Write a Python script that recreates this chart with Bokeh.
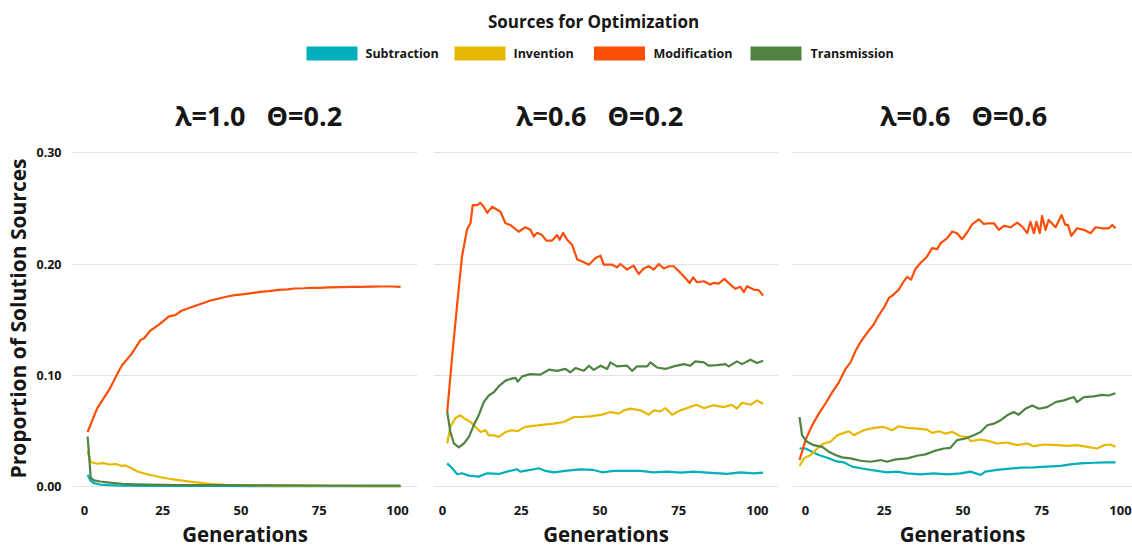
from bokeh.plotting import figure
from bokeh.layouts import column, row
from bokeh.models import Range1d, FixedTicker, NumeralTickFormatter
from bokeh.core.properties import value
from bokeh.embed import file_html
from bokeh.resources import INLINE

FONT = "Open Sans"
INK = "#161616"

LEGEND_TITLE = "Sources for Optimization"
SERIES = ["Subtraction", "Invention", "Modification", "Transmission"]
COLORS = ["#00AFBB", "#E7B800", "#FC4E07", "#4E8342"]
PANEL_TITLES = ["λ=1.0\u00a0\u00a0\u00a0Θ=0.2", "λ=0.6\u00a0\u00a0\u00a0Θ=0.2", "λ=0.6\u00a0\u00a0\u00a0Θ=0.6"]
X_LABEL = "Generations"
Y_LABEL = "Proportion of Solution Sources"
X_TICKS = [0, 25, 50, 75, 100]
Y_TICKS = [0.0, 0.1, 0.2, 0.3]

# ---- panel 1 : lambda=1.0, theta=0.2  (generation, proportion)
P1_SUB = [(1, 0.0105), (2, 0.005), (3, 0.003), (5, 0.0018), (8, 0.0012), (12, 0.0008),
          (20, 0.0006), (40, 0.0005), (60, 0.0004), (80, 0.0004), (101, 0.0004)]
P1_INV = [(1, 0.032), (2, 0.022), (4, 0.0205), (6, 0.021), (8, 0.0198), (10, 0.0202),
          (12, 0.0185), (13, 0.019), (15, 0.0165), (17, 0.0135), (20, 0.011), (24, 0.0086),
          (27, 0.007), (30, 0.0058), (35, 0.004), (40, 0.0025), (45, 0.0016), (50, 0.0012),
          (60, 0.0008), (70, 0.0006), (80, 0.0005), (90, 0.0004), (101, 0.0003)]
P1_MOD = [(1, 0.049), (4, 0.070), (8, 0.0875), (11, 0.104), (12, 0.109), (15, 0.119),
          (18, 0.132), (19, 0.133), (21, 0.140), (24, 0.146), (27, 0.153), (29, 0.154),
          (31, 0.158), (33, 0.160), (35, 0.162), (38, 0.165), (40, 0.167), (43, 0.169),
          (46, 0.171), (48, 0.172), (51, 0.173), (54, 0.174), (56, 0.175), (59, 0.1757),
          (62, 0.1768), (65, 0.1772), (67, 0.178), (70, 0.1782), (72, 0.1785), (75, 0.1785),
          (78, 0.179), (82, 0.1792), (85, 0.1795), (88, 0.1795), (92, 0.1797), (95, 0.1798),
          (98, 0.1798), (101, 0.1795)]
P1_TRA = [(1, 0.045), (2, 0.008), (3, 0.0055), (5, 0.0045), (8, 0.0035), (12, 0.0025),
          (16, 0.002), (20, 0.0017), (30, 0.0013), (40, 0.0012), (60, 0.0010), (80, 0.0009),
          (101, 0.0008)]

# ---- panel 2 : lambda=0.6, theta=0.2
P2_SUB = [(1.5, 0.0208), (3.1, 0.0164), (4.7, 0.011), (6.2, 0.0119), (8.4, 0.0098),
          (11.5, 0.0089), (14.2, 0.0119), (17.9, 0.0113), (20.5, 0.0134), (23.7, 0.0155),
          (24.7, 0.0134), (27.9, 0.0149), (30.6, 0.0164), (32.7, 0.014), (35.3, 0.0128),
          (39.6, 0.0143), (43.8, 0.0155), (48, 0.0149), (50.7, 0.0128), (54.4, 0.014),
          (58.6, 0.014), (62.9, 0.014), (67.1, 0.0128), (71.3, 0.0134), (75.6, 0.0125),
          (79.8, 0.0134), (84, 0.0125), (90.4, 0.0113), (94.6, 0.0128), (98.8, 0.0119),
          (101.8, 0.0125)]
P2_INV = [(1.5, 0.0387), (2.5, 0.0536), (4.1, 0.0616), (5.7, 0.064), (7.3, 0.0604),
          (8.9, 0.058), (10.5, 0.0536), (12.1, 0.049), (13.7, 0.0506), (14.7, 0.046),
          (16.3, 0.046), (17.9, 0.0446), (20, 0.049), (22.1, 0.0506), (23.7, 0.0497),
          (26.3, 0.0536), (29, 0.0545), (32.2, 0.0557), (35.3, 0.0565), (38.5, 0.058),
          (41.7, 0.0625), (43.8, 0.0625), (47, 0.063), (50.7, 0.0646), (53.3, 0.067),
          (56, 0.0655), (57.6, 0.0685), (59.7, 0.07), (62.9, 0.0685), (65.5, 0.0646),
          (67.1, 0.0685), (69.2, 0.0676), (70.8, 0.0705), (72.9, 0.0646), (75.6, 0.0685),
          (77.7, 0.0705), (80.6, 0.0735), (83, 0.0705), (86.1, 0.073), (89.3, 0.0714),
          (91.9, 0.0735), (93.5, 0.07), (95.1, 0.0753), (97.8, 0.0735), (99.9, 0.0774),
          (101.8, 0.0744)]
P2_MOD = [(1.5, 0.067), (3.1, 0.118), (4.7, 0.165), (6.2, 0.207), (7.8, 0.231), (8.9, 0.237),
          (9.6, 0.253), (11, 0.253), (12, 0.255), (13.1, 0.2515), (14.2, 0.246), (15.8, 0.2515),
          (18.4, 0.247), (20, 0.2366), (21.6, 0.235), (24.2, 0.229), (26.3, 0.233),
          (27.9, 0.2307), (29, 0.2247), (30, 0.228), (31.6, 0.226), (33, 0.221), (34.8, 0.221),
          (36.4, 0.226), (37.2, 0.2217), (38.3, 0.228), (39.6, 0.2217), (41.2, 0.217),
          (42.8, 0.204), (44.9, 0.2015), (46.5, 0.1994), (48.6, 0.2054), (50.2, 0.2074),
          (51.2, 0.1994), (53.9, 0.1994), (55.4, 0.197), (56.5, 0.2), (58.6, 0.195),
          (60.7, 0.1985), (62.3, 0.191), (63.9, 0.196), (65.5, 0.198), (67.1, 0.195),
          (68.7, 0.2), (70.3, 0.196), (71.9, 0.198), (73.4, 0.198), (75.6, 0.192),
          (77.1, 0.1875), (78.5, 0.183), (79.6, 0.188), (80.8, 0.1836), (83, 0.1845),
          (85, 0.1815), (86.1, 0.183), (87.7, 0.1824), (89.5, 0.1866), (91.4, 0.1815),
          (93, 0.1777), (94.6, 0.1795), (95.7, 0.1747), (96.7, 0.18), (98.8, 0.177),
          (100.4, 0.1765), (101.8, 0.1717)]
P2_TRA = [(1.5, 0.067), (2.5, 0.049), (3.6, 0.0387), (5.2, 0.0351), (6.8, 0.0387),
          (8.4, 0.0446), (9.9, 0.055), (11.5, 0.064), (13.1, 0.0759), (14.7, 0.0818),
          (16.3, 0.0848), (17.9, 0.0902), (20, 0.0952), (21.6, 0.0967), (23.2, 0.0976),
          (23.9, 0.0943), (25.3, 0.099), (27.9, 0.101), (31.1, 0.1006), (33.8, 0.105),
          (36.4, 0.104), (39, 0.1057), (40.6, 0.1027), (42.2, 0.1065), (44.9, 0.104),
          (46.5, 0.1086), (48, 0.1048), (50.2, 0.1086), (52.3, 0.1057), (53.3, 0.1116),
          (55.4, 0.108), (58.6, 0.1086), (60.2, 0.104), (61.8, 0.108), (65, 0.108),
          (66, 0.1116), (68.1, 0.107), (70.8, 0.1057), (73.4, 0.108), (76.6, 0.11),
          (78.7, 0.1086), (80.3, 0.1125), (83, 0.1116), (84.5, 0.1086), (87.2, 0.1092),
          (89.8, 0.11), (90.9, 0.108), (93.5, 0.1125), (95.1, 0.11), (97.8, 0.114),
          (99.9, 0.111), (101.8, 0.113)]

# ---- panel 3 : lambda=0.6, theta=0.6
P3_SUB = [(-1.9, 0.0342), (0, 0.0342), (2.1, 0.0313), (4.2, 0.0283), (6.9, 0.0259),
          (9.5, 0.0229), (12.2, 0.0217), (14.8, 0.0179), (17.5, 0.0164), (20.6, 0.0149),
          (22.8, 0.014), (25.9, 0.0128), (29.1, 0.0134), (32.3, 0.0119), (36.5, 0.011),
          (40.7, 0.0119), (45, 0.011), (49.2, 0.0119), (52.4, 0.0134), (55.6, 0.0104),
          (57.1, 0.0134), (60.8, 0.0149), (64, 0.0158), (68.3, 0.017), (72.5, 0.0173),
          (76.7, 0.0179), (81, 0.0185), (84.1, 0.0199), (87.3, 0.0208), (91.5, 0.0214),
          (95.8, 0.0217), (98.4, 0.0217)]
P3_INV = [(-1.9, 0.0185), (-0.5, 0.0253), (1.6, 0.0283), (3.7, 0.0342), (5.8, 0.0387),
          (7.9, 0.0402), (10.1, 0.0461), (12.2, 0.0482), (13.8, 0.0497), (15.3, 0.0461),
          (18.5, 0.0506), (21.7, 0.0527), (24.9, 0.0536), (27.5, 0.0506), (29.6, 0.0542),
          (32.3, 0.0527), (35.4, 0.0521), (38.6, 0.0512), (40.2, 0.0482), (42.3, 0.0497),
          (44.4, 0.0476), (46.6, 0.0491), (49.2, 0.0452), (51.3, 0.0446), (52.4, 0.0408),
          (55.6, 0.0423), (58.2, 0.0408), (60.8, 0.0387), (64, 0.0396), (67.2, 0.0372),
          (70.4, 0.0387), (72.5, 0.0363), (75.7, 0.0378), (79.9, 0.0372), (83.1, 0.0366),
          (86.2, 0.0372), (89.4, 0.0357), (92.6, 0.0342), (94.7, 0.0372), (96.8, 0.0378),
          (98.4, 0.0357)]
P3_MOD = [(-1.9, 0.0238), (0, 0.0417), (2.1, 0.055), (4.2, 0.0655), (6.3, 0.0744),
          (8.5, 0.0848), (10.6, 0.0937), (12.7, 0.1057), (14.3, 0.1116), (15.9, 0.122),
          (17.5, 0.13), (19.6, 0.1384), (21.7, 0.1458), (22.8, 0.1518), (24.9, 0.1607),
          (26.5, 0.1696), (28, 0.1726), (29.6, 0.177), (31.2, 0.1845), (32.3, 0.1884),
          (33.5, 0.186), (34.9, 0.1955), (36.5, 0.2009), (38.6, 0.2068), (40.2, 0.2143),
          (41.8, 0.2134), (42.9, 0.2188), (45, 0.2232), (46.6, 0.2292), (48.1, 0.2277),
          (49.7, 0.2223), (51.3, 0.2283), (52.9, 0.2357), (55, 0.2402), (56.6, 0.236),
          (58.2, 0.2366), (59.8, 0.2366), (61.4, 0.2307), (63, 0.2342), (65.1, 0.233),
          (67.2, 0.2372), (68.8, 0.2336), (70.4, 0.2277), (71.4, 0.238), (72.5, 0.2277),
          (73.3, 0.238), (74.4, 0.2277), (75.1, 0.2432), (76.2, 0.2307), (77.2, 0.2396),
          (79.4, 0.233), (81.3, 0.244), (82.5, 0.2351), (83.3, 0.2351), (84.4, 0.2253),
          (86.2, 0.2321), (88.4, 0.2307), (90.5, 0.2277), (92.1, 0.233), (94.2, 0.2321),
          (96.3, 0.2321), (97.4, 0.2351), (98.4, 0.2321)]
P3_TRA = [(-1.9, 0.0625), (-1.1, 0.0461), (0.5, 0.0402), (2.6, 0.0372), (5.3, 0.0357),
          (7.4, 0.0313), (9.5, 0.0283), (11.6, 0.0262), (14.3, 0.0253), (17.5, 0.0232),
          (20.6, 0.0223), (23.8, 0.0238), (25.9, 0.0223), (28.6, 0.0244), (32.3, 0.0253),
          (35.4, 0.0277), (38.1, 0.0289), (40.7, 0.0318), (43.9, 0.0342), (46, 0.0348),
          (48.1, 0.0417), (50.8, 0.0432), (53.4, 0.0461), (55.6, 0.0491), (57.7, 0.0551),
          (59.8, 0.0565), (61.9, 0.0595), (64, 0.064), (66.1, 0.067), (67.7, 0.0646),
          (69.8, 0.0699), (72, 0.0729), (74.1, 0.0699), (76.7, 0.0714), (79.4, 0.0759),
          (82, 0.0774), (85.2, 0.0804), (86.2, 0.0759), (88.4, 0.0804), (91.5, 0.081),
          (94.2, 0.0824), (96.3, 0.0818), (98.4, 0.0839)]

PANELS = [
    [P1_SUB, P1_INV, P1_MOD, P1_TRA],
    [P2_SUB, P2_INV, P2_MOD, P2_TRA],
    [P3_SUB, P3_INV, P3_MOD, P3_TRA],
]

# ---------------- layout constants (page pixels) ----------------
TOTAL_W = 1132
HDR_H = 140
PANEL_H = 410
X_RANGES = [(-3.83, 106.4), (-2.86, 106.7), (-4.13, 103.81)]
PANEL_W = [425, 361, 346]
BORDER_L = [72, 8, 6]
BORDER_R = [8, 8, 0]
Y_RANGE = (-0.00446, 0.3065)
TITLE_X = [258, 599, 963]

# ---------------- header: legend + panel titles ----------------
hdr = figure(width=TOTAL_W, height=HDR_H, x_range=Range1d(0, TOTAL_W),
             y_range=Range1d(HDR_H, 0), output_backend="svg",
             toolbar_location=None, min_border=0)
hdr.axis.visible = False
hdr.grid.visible = False
hdr.outline_line_color = None

hdr.text(x=[593], y=[21], text=[LEGEND_TITLE], text_font=value(FONT),
         text_font_style="bold", text_font_size="17px", text_align="center",
         text_baseline="middle", text_color=INK)

SWATCH_X = [331.5, 479.5, 619, 775.5]
LABEL_X = [365, 513, 653, 810]
hdr.rect(x=SWATCH_X, y=[53] * 4, width=51, height=14, fill_color=COLORS,
         line_color=None)
hdr.text(x=LABEL_X, y=[53] * 4, text=SERIES, text_font=value(FONT),
         text_font_style="bold", text_font_size="12.5px", text_align="left",
         text_baseline="middle", text_color=INK)
hdr.text(x=TITLE_X, y=[115] * 3, text=PANEL_TITLES, text_font=value(FONT),
         text_font_style="bold", text_font_size="27px", text_align="center",
         text_baseline="middle", text_color=INK)

# ---------------- panels ----------------
figs = []
for i, series in enumerate(PANELS):
    p = figure(width=PANEL_W[i], height=PANEL_H, x_range=Range1d(*X_RANGES[i]),
               y_range=Range1d(*Y_RANGE), output_backend="svg",
               toolbar_location=None, min_border_left=BORDER_L[i],
               min_border_right=BORDER_R[i], min_border_top=5,
               min_border_bottom=57)
    p.outline_line_color = None
    p.background_fill_color = "white"
    for data, color in zip(series, COLORS):
        xs = [d[0] for d in data]
        ys = [d[1] for d in data]
        p.line(xs, ys, line_color=color, line_width=2.2, line_join="round")

    p.xaxis.ticker = FixedTicker(ticks=X_TICKS)
    p.xaxis.axis_label = X_LABEL
    p.xaxis.axis_label_text_font = FONT
    p.xaxis.axis_label_text_font_style = "bold"
    p.xaxis.axis_label_text_font_size = "20.5px"
    p.xaxis.axis_label_text_color = INK
    p.xaxis.axis_label_standoff = 2
    p.xaxis.major_label_text_font = FONT
    p.xaxis.major_label_text_font_style = "bold"
    p.xaxis.major_label_text_font_size = "13px"
    p.xaxis.major_label_text_color = INK
    p.xaxis.major_label_standoff = 8
    p.xaxis.axis_line_color = None
    p.xaxis.major_tick_line_color = None
    p.xaxis.minor_tick_line_color = None
    p.xgrid.grid_line_color = None

    p.yaxis.ticker = FixedTicker(ticks=Y_TICKS)
    p.yaxis.formatter = NumeralTickFormatter(format="0.00")
    p.ygrid.grid_line_color = "#E3E3E3"
    p.ygrid.grid_line_width = 1
    if i == 0:
        p.yaxis.axis_label = Y_LABEL
        p.yaxis.axis_label_text_font = FONT
        p.yaxis.axis_label_text_font_style = "bold"
        p.yaxis.axis_label_text_font_size = "21px"
        p.yaxis.axis_label_text_color = INK
        p.yaxis.axis_label_standoff = 1
        p.yaxis.major_label_text_font = FONT
        p.yaxis.major_label_text_font_style = "bold"
        p.yaxis.major_label_text_font_size = "12.5px"
        p.yaxis.major_label_text_color = INK
        p.yaxis.major_label_standoff = 5
        p.yaxis.axis_line_color = None
        p.yaxis.major_tick_line_color = None
        p.yaxis.minor_tick_line_color = None
    else:
        p.yaxis.visible = False
    figs.append(p)

layout = column(hdr, row(*figs, spacing=0), spacing=0)
open("out.html", "w").write(file_html(layout, INLINE))
